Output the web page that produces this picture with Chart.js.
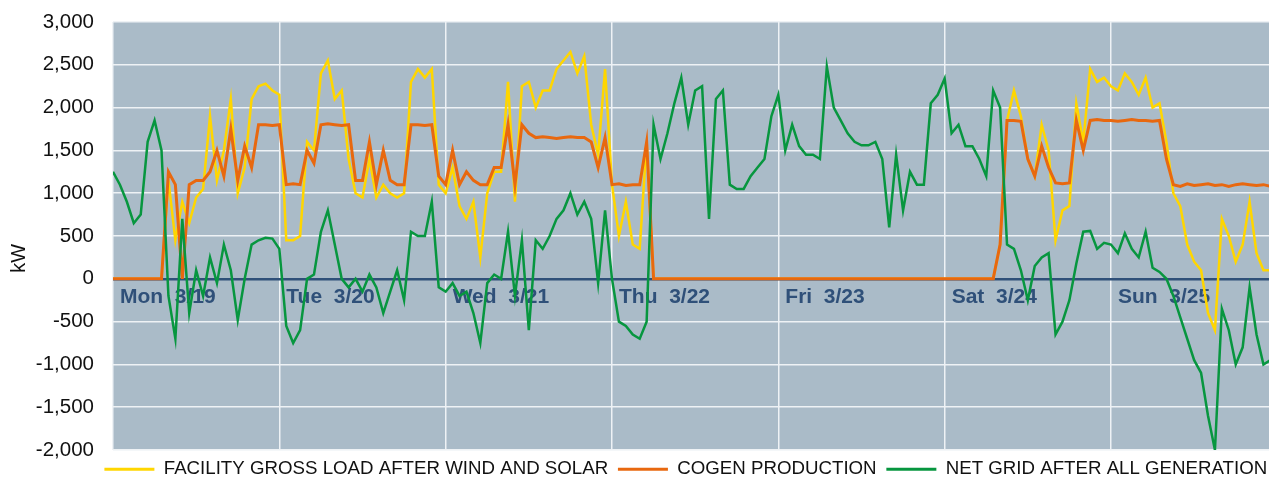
<!DOCTYPE html>
<html>
<head>
<meta charset="utf-8">
<script src="https://cdn.jsdelivr.net/npm/chart.js@4/dist/chart.umd.min.js"></script>
<style>
  html, body { margin: 0; padding: 0; background: #fff; }
  #wrap { width: 1269px; height: 478px; }
</style>
</head>
<body>
<div id="wrap"><canvas id="load-chart"></canvas></div>
<script>
// hourly readings, Mon 3/19 00:00 onwards (hour index = x)
var dayLabels = ["Mon  3/19", "Tue  3/20", "Wed  3/21", "Thu  3/22", "Fri  3/23", "Sat  3/24", "Sun  3/25"];
var seriesNames = ["FACILITY GROSS LOAD AFTER WIND AND SOLAR", "COGEN PRODUCTION", "NET GRID AFTER ALL GENERATION"];

var grossLoad = [
  0, 0, 0, 0, 0, 0, 0, 0, 1150, 450, 900, 650, 950, 1050, 1900, 1150, 1500, 2100, 1000, 1300, 2100, 2250, 2280, 2200,
  2150, 450, 450, 500, 1600, 1500, 2400, 2550, 2100, 2200, 1400, 1000, 950, 1400, 950, 1100, 1000, 950, 1000, 2300, 2450, 2350, 2450, 1100,
  1000, 1300, 850, 700, 900, 250, 1000, 1250, 1250, 2300, 900, 2250, 2300, 2000, 2200, 2200, 2450, 2550, 2650, 2400, 2600, 1800, 1450, 2450,
  1100, 500, 900, 400, 350, 1600, 0, 0, 0, 0, 0, 0, 0, 0, 0, 0, 0, 0, 0, 0, 0, 0, 0, 0,
  0, 0, 0, 0, 0, 0, 0, 0, 0, 0, 0, 0, 0, 0, 0, 0, 0, 0, 0, 0, 0, 0, 0, 0,
  0, 0, 0, 0, 0, 0, 0, 0, 400, 1850, 2200, 1900, 1400, 1200, 1800, 1500, 450, 800, 850, 2050, 1600, 2450, 2300, 2350,
  2250, 2200, 2400, 2300, 2150, 2350, 2000, 2050, 1600, 1000, 850, 400, 200, 100, -400, -600, 700, 500, 200, 400, 900, 300, 100, 100
];

var cogen = [
  0, 0, 0, 0, 0, 0, 0, 0, 1250, 1100, 0, 1100, 1150, 1150, 1250, 1500, 1200, 1750, 1150, 1550, 1300, 1800, 1800, 1790,
  1800, 1100, 1110, 1100, 1500, 1350, 1800, 1810, 1800, 1790, 1800, 1150, 1150, 1600, 1100, 1500, 1150, 1100, 1100, 1800, 1800, 1790, 1800, 1200,
  1100, 1500, 1100, 1250, 1150, 1100, 1100, 1300, 1300, 1800, 1100, 1800, 1700, 1650, 1660, 1650, 1640, 1650, 1660, 1650, 1650, 1600, 1300, 1650,
  1100, 1110, 1090, 1100, 1100, 1600, 0, 0, 0, 0, 0, 0, 0, 0, 0, 0, 0, 0, 0, 0, 0, 0, 0, 0,
  0, 0, 0, 0, 0, 0, 0, 0, 0, 0, 0, 0, 0, 0, 0, 0, 0, 0, 0, 0, 0, 0, 0, 0,
  0, 0, 0, 0, 0, 0, 0, 0, 400, 1850, 1850, 1840, 1400, 1200, 1550, 1300, 1120, 1110, 1120, 1850, 1500, 1850, 1860, 1850,
  1850, 1840, 1850, 1860, 1850, 1850, 1840, 1850, 1400, 1100, 1080, 1110, 1090, 1100, 1110, 1090, 1100, 1080, 1100, 1110, 1100, 1090, 1100, 1080
];

var netGrid = [
  1250, 1100, 900, 650, 750, 1600, 1850, 1500, -200, -700, 700, -400, 100, -200, 250, -50, 400, 100, -480, 0, 400, 450, 480, 470,
  350, -550, -750, -600, 0, 50, 550, 800, 400, 0, -100, 0, -150, 50, -100, -400, -150, 100, -250, 550, 500, 500, 900, -100,
  -150, -50, -200, -150, -400, -750, -50, 50, 0, 550, -200, 450, -600, 450, 350, 500, 700, 800, 1000, 750, 900, 700, -50, 800,
  0, -500, -550, -650, -700, -500, 1800, 1400, 1700, 2050, 2350, 1800, 2200, 2250, 700, 2100, 2200, 1100, 1050, 1050, 1200, 1300, 1400, 1900,
  2150, 1500, 1800, 1550, 1450, 1450, 1400, 2480, 2000, 1850, 1700, 1600, 1560, 1560, 1600, 1400, 600, 1450, 800, 1250, 1100, 1100, 2050, 2150,
  2340, 1700, 1800, 1550, 1550, 1400, 1200, 2200, 2000, 400, 350, 100, -250, 150, 250, 300, -650, -500, -250, 180, 550, 560, 350, 420,
  400, 300, 530, 350, 250, 550, 130, 80, 0, -200, -450, -700, -950, -1100, -1600, -2000, -350, -600, -1000, -800, -100, -650, -1000, -950
];

var yellow = "#ffd600";
var orange = "#e8680f";
var green = "#07963f";
var navy = "#2f5079";
var fontFamily = "Arial, 'Liberation Sans', sans-serif";

function toPoints(values) {
  return values.map(function (v, i) { return { x: i, y: v }; });
}

// plot area fill + nudge legend to line up with the plot
var plotBackground = {
  id: "plotBackground",
  afterLayout: function (chart) {
    chart.legend.left += 8;
    chart.legend.right += 8;
  },
  beforeDraw: function (chart) {
    var a = chart.chartArea;
    var ctx = chart.ctx;
    ctx.save();
    ctx.fillStyle = "#aabbc8";
    ctx.fillRect(a.left, a.top, a.right - a.left, a.bottom - a.top);
    ctx.restore();
  }
};

var config = {
  type: "line",
  data: {
    datasets: [
      { label: seriesNames[0], data: toPoints(grossLoad), borderColor: yellow, backgroundColor: yellow, borderWidth: 2.5, order: 3 },
      { label: seriesNames[1], data: toPoints(cogen), borderColor: orange, backgroundColor: orange, borderWidth: 3, order: 2 },
      { label: seriesNames[2], data: toPoints(netGrid), borderColor: green, backgroundColor: green, borderWidth: 2.5, order: 1 }
    ]
  },
  options: {
    responsive: true,
    maintainAspectRatio: false,
    animation: false,
    elements: { point: { radius: 0 }, line: { tension: 0 } },
    layout: { padding: { top: 22, right: 0, bottom: -10.5, left: 0 } },
    scales: {
      x: {
        type: "linear",
        position: { y: 0 },
        min: 0,
        max: 166.8,
        afterFit: function (scale) {
          // day labels sit inside the plot, they should not take room
          scale.height = 0;
          scale.paddingTop = 0;
          scale.paddingBottom = 0;
        },
        afterBuildTicks: function (scale) {
          scale.ticks = dayLabels.map(function (d, i) { return { value: i * 24 }; });
        },
        grid: { color: "#eef2f5", lineWidth: 1.5, drawTicks: false },
        border: { display: false },
        ticks: {
          align: "start",
          labelOffset: 7,
          padding: 6,
          maxRotation: 0,
          autoSkip: false,
          color: navy,
          font: { family: fontFamily, size: 21, weight: "bold" },
          callback: function (v) { return dayLabels[v / 24]; }
        }
      },
      y: {
        min: -2000,
        max: 3000,
        afterFit: function (scale) {
          scale.width = 113;
          scale.paddingTop = 0;
          scale.paddingBottom = 0;
        },
        ticks: {
          stepSize: 500,
          padding: 19,
          color: "#111",
          font: { family: fontFamily, size: 20.5 }
        },
        grid: {
          drawTicks: false,
          color: function (c) { return c.tick && c.tick.value === 0 ? navy : "#eef2f5"; },
          lineWidth: function (c) { return c.tick && c.tick.value === 0 ? 2.5 : 1.5; }
        },
        border: { display: false },
        title: {
          display: true,
          text: "kW        ", // trailing spaces push the label down a bit
          color: "#111",
          padding: { top: 7, bottom: 0 },
          font: { family: fontFamily, size: 20 }
        }
      }
    },
    plugins: {
      tooltip: { enabled: false },
      legend: {
        position: "bottom",
        align: "end",
        labels: {
          boxWidth: 50,
          boxHeight: 3,
          padding: 9.75,
          color: "#111",
          font: { family: fontFamily, size: 18.7 },
          sort: function (a, b) { return a.datasetIndex - b.datasetIndex; },
          generateLabels: function (chart) {
            return Chart.defaults.plugins.legend.labels.generateLabels(chart).map(function (l) {
              l.lineWidth = 0;
              return l;
            });
          }
        }
      }
    }
  },
  plugins: [plotBackground]
};

var loadChart = new Chart(document.getElementById("load-chart"), config);
</script>
</body>
</html>
